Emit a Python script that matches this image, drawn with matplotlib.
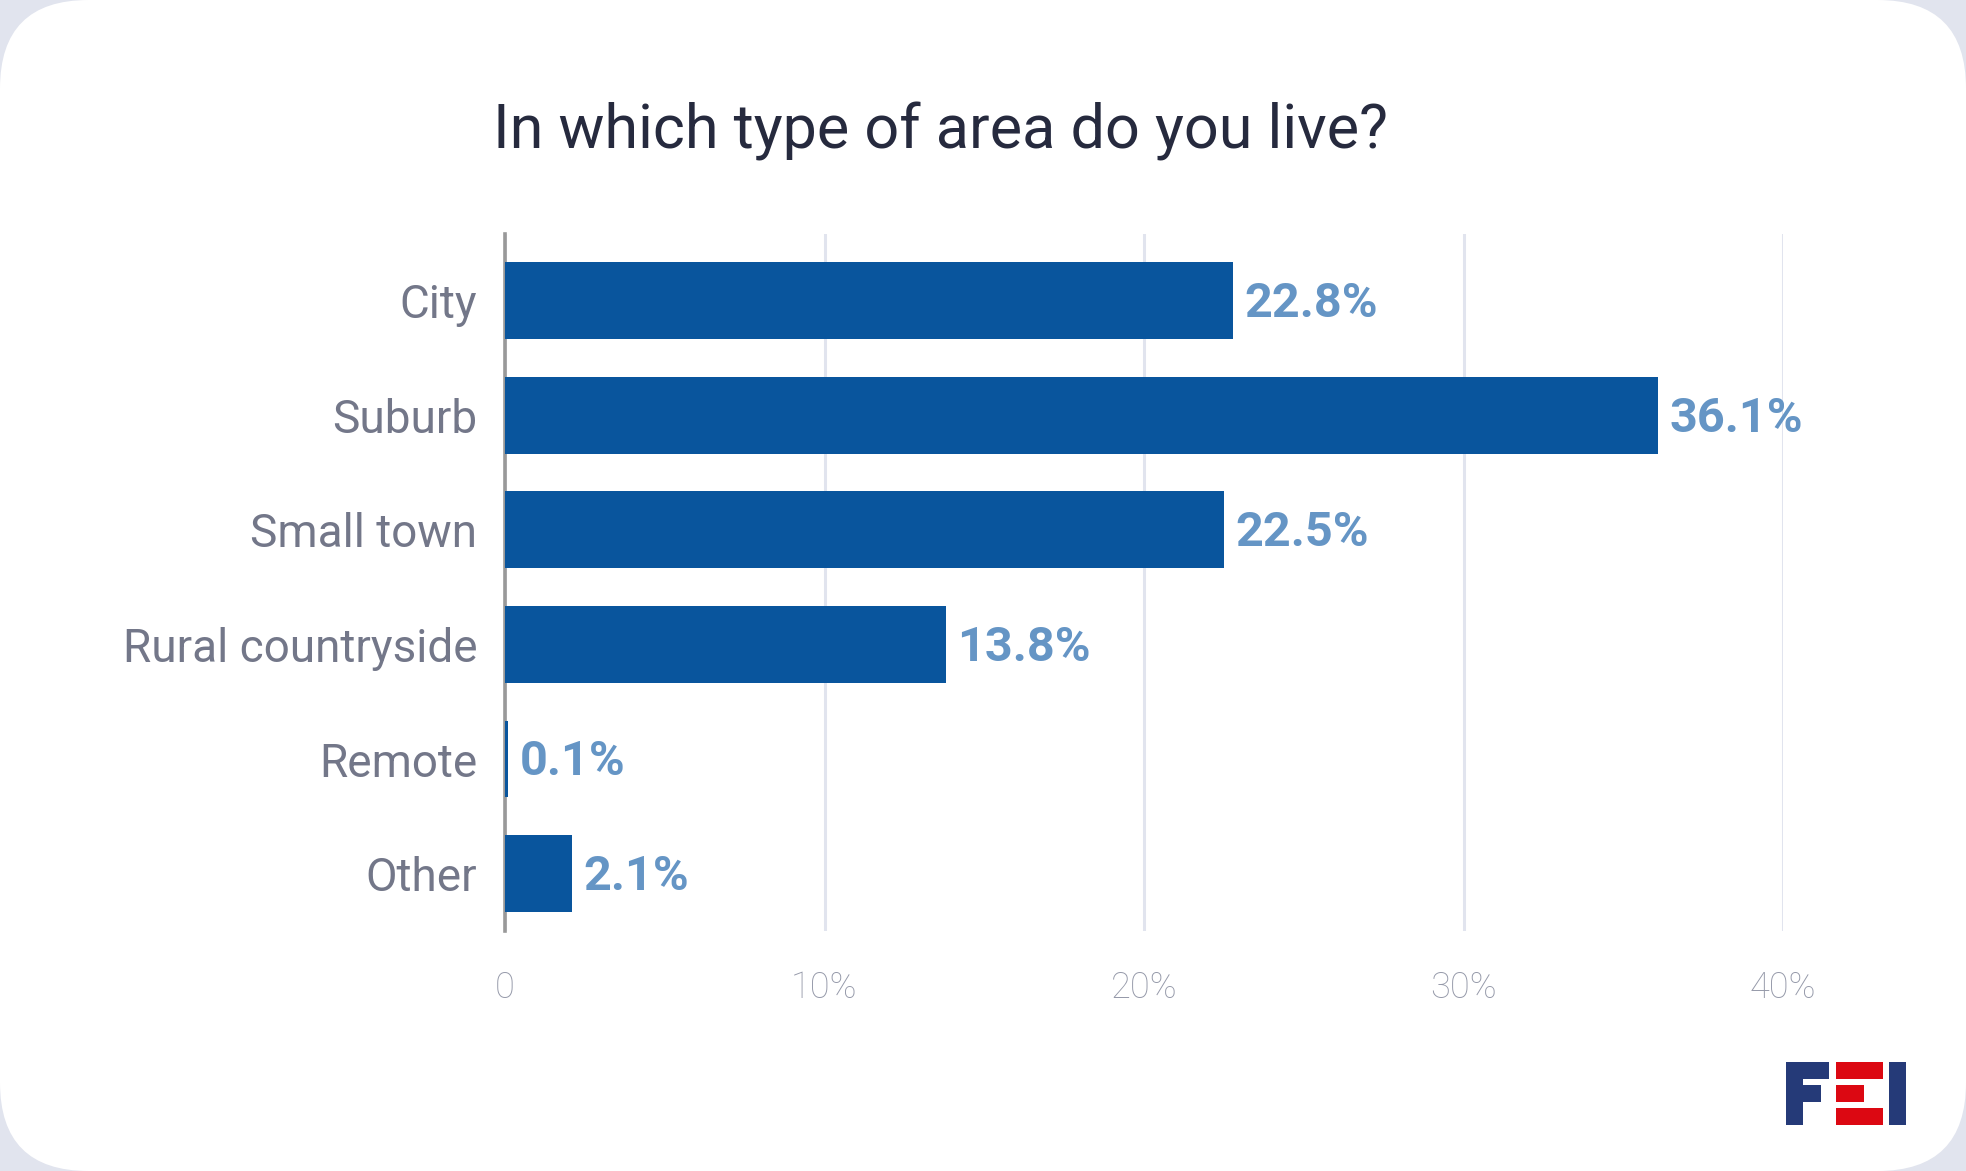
import matplotlib.pyplot as plt
from matplotlib.patches import FancyBboxPatch, Rectangle

# survey answers
categories = ["City", "Suburb", "Small town", "Rural countryside", "Remote", "Other"]
shares = [22.8, 36.1, 22.5, 13.8, 0.1, 2.1]
tick_values = [0, 10, 20, 30, 40]
tick_labels = ["0", "10%", "20%", "30%", "40%"]

W, H = 1966, 1171
fig = plt.figure(figsize=(W / 100, H / 100), dpi=100)
fig.patch.set_facecolor("#e1e4ee")

# white card with rounded corners
card = FancyBboxPatch((0, 0), 1, 1, boxstyle="round,pad=0,rounding_size=0.045",
                      transform=fig.transFigure, facecolor="white", edgecolor="none",
                      mutation_aspect=W / H, zorder=-10)
fig.patches.append(card)

ax = fig.add_axes([505 / W, 1 - 931 / H, (1783 - 505) / W, (931 - 234) / H])
ax.set_facecolor("none")
ax.set_zorder(2)

y = list(range(len(categories)))
ax.barh(y, shares, height=0.67, color="#09559d", zorder=3)
for yi, v in zip(y, shares):
    ax.text(v + 0.35, yi + 0.03, f"{v}%", va="center", ha="left", color="#6595c5",
            fontsize=35, fontweight="semibold", family="Roboto", zorder=4)

ax.set_xlim(0, 40)
ax.set_ylim(5.5, -0.58)
ax.set_yticks(y)
ax.set_yticklabels(categories, family="Roboto", fontsize=33, color="#737789")
ax.set_xticks(tick_values)
ax.set_xticklabels(tick_labels, family="Roboto", fontweight="light", fontsize=26,
                   color="#9599a9")
ax.tick_params(axis="y", length=0, pad=20)
ax.tick_params(axis="x", length=0, pad=28)

ax.grid(axis="x", color="#e1e4ee", linewidth=2.2, zorder=1)
for s in ["top", "right", "bottom"]:
    ax.spines[s].set_visible(False)
ax.spines["left"].set_color("#999999")
ax.spines["left"].set_linewidth(2.6)
ax.spines["left"].set_zorder(2)

fig.text(493 / W, 1 - 131 / H, "In which type of area do you live?", ha="left", va="center",
         fontsize=44, family="Roboto", color="#262a3e")

# FEI logo, drawn in pixel coordinates
navy, red = "#253a78", "#dc0812"
logo = [
    (1786, 1062, 1803, 1125, navy),
    (1786, 1062, 1829, 1079, navy),
    (1786, 1085, 1821, 1102, navy),
    (1836, 1062, 1883, 1079, red),
    (1836, 1085, 1864, 1102, red),
    (1836, 1108, 1883, 1125, red),
    (1889, 1062, 1906, 1125, navy),
]
for x0, y0, x1, y1, c in logo:
    fig.patches.append(Rectangle((x0 / W, 1 - y1 / H), (x1 - x0) / W, (y1 - y0) / H,
                                 transform=fig.transFigure, facecolor=c, edgecolor="none"))

fig.savefig("out.png", dpi=100, facecolor=fig.get_facecolor())
